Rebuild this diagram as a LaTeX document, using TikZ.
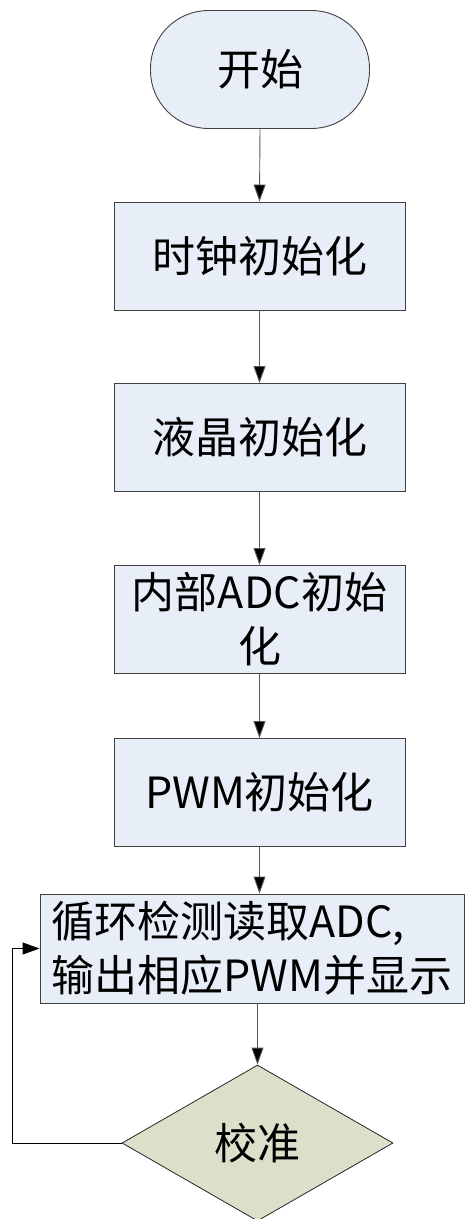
\documentclass[tikz,border=0pt]{standalone}
\usepackage{fontspec}
\setmainfont{Noto Sans CJK SC}
\usetikzlibrary{arrows.meta,shapes.geometric}
\definecolor{boxfill}{HTML}{E8EEF8}
\definecolor{decfill}{HTML}{DCE0CA}
\begin{document}
\begin{tikzpicture}[x=1pt,y=-1pt,
  every node/.style={font=\fontsize{43pt}{54pt}\selectfont, inner sep=0pt},
  procbox/.style={draw=black!75, line width=0.9pt, fill=boxfill, minimum width=291pt, minimum height=108pt},
  termbox/.style={draw=black!75, line width=0.9pt, fill=boxfill, rounded corners=58pt, minimum width=219pt, minimum height=118pt},
  decbox/.style={draw=black!85, line width=0.8pt, fill=decfill, diamond, minimum width=271pt, minimum height=156pt, aspect=1.74},
  flow/.style={draw=black!65, line width=0.9pt, -{Triangle[length=17pt,width=12pt,fill=black]}},
  loopline/.style={draw=black, line width=0.9pt, -{Triangle[length=17pt,width=12pt,fill=black]}}
]
\useasboundingbox (0,0) rectangle (465,1219);
\node[termbox] (start) at (260,69.5) {开始};
\node[procbox] (b1) at (259.5,256) {时钟初始化};
\node[procbox] (b2) at (259.5,437.5) {液晶初始化};
\node[procbox, align=center] (b3) at (259.5,619.5) {内部ADC初始\\化};
\node[procbox] (b4) at (259.5,792.5) {PWM初始化};
\node[procbox, minimum width=424pt, minimum height=109pt, align=left] (b5) at (252,948.5) {循环检测读取ADC,\\输出相应PWM并显示};
\node[decbox] (cal) at (257.5,1143) {校准};
\coordinate (lp1) at (12,1143);
\coordinate (lp2) at (12,948.5);
\draw[flow] (start.south) -- (b1.north);
\draw[flow] (b1.south) -- (b2.north);
\draw[flow] (b2.south) -- (b3.north);
\draw[flow] (b3.south) -- (b4.north);
\draw[flow] (b4.south -| b3.south) -- (b5.north -| b3.south);
\draw[flow] (b5.south -| cal.north) -- (cal.north);
\draw[loopline] (cal.west) -- (lp1) -- (lp2) -- (b5.west);
\end{tikzpicture}
\end{document}
